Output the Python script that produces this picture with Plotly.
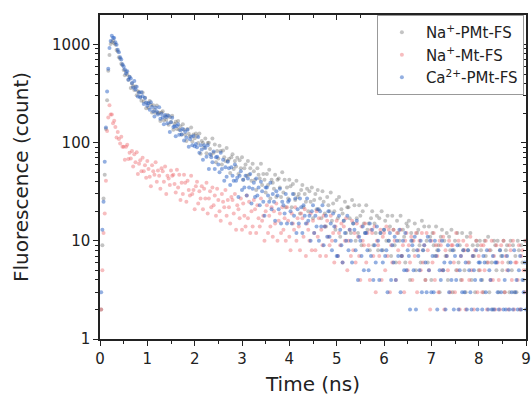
import plotly.graph_objects as go

# Time channels (ns)
time_ns = [
    0.025, 0.05, 0.075, 0.10, 0.125, 0.15, 0.175, 0.20, 0.225, 0.25, 0.275, 0.30, 0.325, 0.35, 0.375, 0.40, 0.425, 0.45, 0.475, 0.50,
    0.525, 0.55, 0.575, 0.60, 0.625, 0.65, 0.675, 0.70, 0.725, 0.75, 0.775, 0.80, 0.825, 0.85, 0.875, 0.90, 0.925, 0.95, 0.975, 1.00,
    1.025, 1.05, 1.075, 1.10, 1.125, 1.15, 1.175, 1.20, 1.225, 1.25, 1.275, 1.30, 1.325, 1.35, 1.375, 1.40, 1.425, 1.45, 1.475, 1.50,
    1.525, 1.55, 1.575, 1.60, 1.625, 1.65, 1.675, 1.70, 1.725, 1.75, 1.775, 1.80, 1.825, 1.85, 1.875, 1.90, 1.925, 1.95, 1.975, 2.00,
    2.025, 2.05, 2.075, 2.10, 2.125, 2.15, 2.175, 2.20, 2.225, 2.25, 2.275, 2.30, 2.325, 2.35, 2.375, 2.40, 2.425, 2.45, 2.475, 2.50,
    2.525, 2.55, 2.575, 2.60, 2.625, 2.65, 2.675, 2.70, 2.725, 2.75, 2.775, 2.80, 2.825, 2.85, 2.875, 2.90, 2.925, 2.95, 2.975, 3.00,
    3.025, 3.05, 3.075, 3.10, 3.125, 3.15, 3.175, 3.20, 3.225, 3.25, 3.275, 3.30, 3.325, 3.35, 3.375, 3.40, 3.425, 3.45, 3.475, 3.50,
    3.525, 3.55, 3.575, 3.60, 3.625, 3.65, 3.675, 3.70, 3.725, 3.75, 3.775, 3.80, 3.825, 3.85, 3.875, 3.90, 3.925, 3.95, 3.975, 4.00,
    4.025, 4.05, 4.075, 4.10, 4.125, 4.15, 4.175, 4.20, 4.225, 4.25, 4.275, 4.30, 4.325, 4.35, 4.375, 4.40, 4.425, 4.45, 4.475, 4.50,
    4.525, 4.55, 4.575, 4.60, 4.625, 4.65, 4.675, 4.70, 4.725, 4.75, 4.775, 4.80, 4.825, 4.85, 4.875, 4.90, 4.925, 4.95, 4.975, 5.00,
    5.025, 5.05, 5.075, 5.10, 5.125, 5.15, 5.175, 5.20, 5.225, 5.25, 5.275, 5.30, 5.325, 5.35, 5.375, 5.40, 5.425, 5.45, 5.475, 5.50,
    5.525, 5.55, 5.575, 5.60, 5.625, 5.65, 5.675, 5.70, 5.725, 5.75, 5.775, 5.80, 5.825, 5.85, 5.875, 5.90, 5.925, 5.95, 5.975, 6.00,
    6.025, 6.05, 6.075, 6.10, 6.125, 6.15, 6.175, 6.20, 6.225, 6.25, 6.275, 6.30, 6.325, 6.35, 6.375, 6.40, 6.425, 6.45, 6.475, 6.50,
    6.525, 6.55, 6.575, 6.60, 6.625, 6.65, 6.675, 6.70, 6.725, 6.75, 6.775, 6.80, 6.825, 6.85, 6.875, 6.90, 6.925, 6.95, 6.975, 7.00,
    7.025, 7.05, 7.075, 7.10, 7.125, 7.15, 7.175, 7.20, 7.225, 7.25, 7.275, 7.30, 7.325, 7.35, 7.375, 7.40, 7.425, 7.45, 7.475, 7.50,
    7.525, 7.55, 7.575, 7.60, 7.625, 7.65, 7.675, 7.70, 7.725, 7.75, 7.775, 7.80, 7.825, 7.85, 7.875, 7.90, 7.925, 7.95, 7.975, 8.00,
    8.025, 8.05, 8.075, 8.10, 8.125, 8.15, 8.175, 8.20, 8.225, 8.25, 8.275, 8.30, 8.325, 8.35, 8.375, 8.40, 8.425, 8.45, 8.475, 8.50,
    8.525, 8.55, 8.575, 8.60, 8.625, 8.65, 8.675, 8.70, 8.725, 8.75, 8.775, 8.80, 8.825, 8.85, 8.875, 8.90, 8.925, 8.95, 8.975, 9.00,
]

# Na+-PMt-FS counts
na_pmt = [
    2, 9, 27, 47, 138, 271, 541, 779, 1012, 1061, 1094, 1027, 998, 879, 846, 741, 716, 636, 613, 548,
    486, 529, 494, 436, 469, 360, 400, 375, 344, 374, 304, 334, 327, 294, 267, 324, 262, 286, 224, 252,
    227, 266, 243, 203, 240, 216, 202, 239, 199, 202, 166, 203, 209, 169, 186, 171, 191, 152, 181, 162,
    188, 135, 155, 163, 138, 166, 135, 146, 121, 154, 135, 120, 104, 138, 123, 116, 143, 103, 121, 111,
    124, 117, 99, 124, 77, 104, 99, 89, 110, 78, 99, 100, 86, 75, 110, 79, 96, 63, 82, 69,
    93, 82, 60, 83, 71, 65, 88, 65, 68, 49, 71, 76, 54, 65, 57, 70, 48, 66, 55, 71,
    42, 55, 60, 46, 65, 47, 55, 41, 61, 51, 42, 33, 55, 47, 43, 61, 37, 48, 42, 31,
    48, 37, 53, 27, 42, 39, 34, 47, 28, 42, 43, 35, 28, 50, 31, 42, 22, 35, 27, 42,
    36, 22, 38, 30, 26, 41, 28, 30, 19, 33, 37, 22, 30, 25, 34, 20, 32, 25, 35, 17,
    26, 30, 21, 33, 21, 27, 17, 32, 25, 19, 14, 28, 23, 20, 31, 16, 24, 20, 13, 26,
    17, 28, 11, 21, 19, 16, 25, 12, 22, 22, 17, 12, 26, 15, 23, 10, 17, 12, 23, 18,
    9, 20, 15, 12, 23, 13, 15, 8, 17, 20, 9, 15, 12, 18, 8, 17, 12, 20, 8, 13,
    16, 10, 18, 10, 14, 7, 18, 13, 9, 6, 16, 12, 10, 18, 7, 13, 11, 6, 15, 14,
    16, 4, 12, 10, 8, 15, 5, 12, 13, 9, 6, 16, 8, 14, 4, 10, 6, 14, 11, 4,
    12, 9, 7, 14, 8, 9, 3, 11, 13, 5, 10, 7, 12, 4, 11, 8, 13, 3, 8, 10,
    5, 12, 6, 9, 4, 12, 8, 5, 3, 11, 8, 6, 12, 4, 9, 7, 3, 10, 9, 5,
    10, 8, 4, 3, 10, 7, 6, 11, 3, 8, 6, 2, 10, 9, 5, 10, 3, 8, 7, 5,
    10, 3, 8, 9, 6, 3, 10, 5, 9, 3, 7, 3, 10, 8, 2, 9, 6, 4, 10, 5,
]

# Na+-Mt-FS counts
na_mt = [
    2, 5, 12, 19, 41, 131, 180, 241, 193, 193, 158, 167, 144, 113, 128, 109, 98, 115, 91, 91,
    67, 91, 95, 68, 79, 69, 82, 57, 76, 63, 80, 48, 61, 66, 51, 70, 51, 59, 44, 65,
    54, 45, 36, 59, 51, 47, 63, 40, 52, 46, 34, 55, 51, 40, 57, 30, 46, 43, 37, 52,
    46, 47, 38, 31, 53, 35, 47, 26, 39, 30, 47, 39, 25, 41, 33, 29, 46, 30, 33, 21,
    36, 40, 24, 32, 27, 36, 21, 34, 27, 39, 19, 27, 32, 22, 35, 23, 29, 18, 34, 26,
    20, 16, 30, 25, 22, 33, 18, 26, 22, 15, 28, 26, 19, 30, 13, 23, 21, 17, 27, 13,
    24, 18, 14, 29, 17, 25, 12, 20, 14, 26, 21, 12, 23, 17, 14, 27, 16, 18, 10, 20,
    23, 12, 18, 14, 22, 11, 20, 15, 24, 10, 16, 19, 12, 22, 13, 17, 10, 22, 16, 11,
    8, 19, 15, 13, 22, 10, 17, 14, 8, 19, 17, 11, 21, 7, 15, 13, 10, 19, 8, 16,
    12, 8, 20, 11, 17, 7, 13, 9, 18, 14, 7, 16, 11, 9, 18, 10, 12, 6, 14, 16,
    7, 12, 9, 15, 6, 14, 10, 17, 5, 10, 13, 7, 16, 8, 12, 6, 15, 11, 7, 4,
    14, 10, 9, 15, 6, 12, 9, 4, 13, 12, 7, 14, 3, 10, 9, 7, 13, 4, 11, 12,
    5, 14, 7, 13, 3, 9, 6, 13, 10, 4, 12, 8, 6, 13, 7, 9, 3, 10, 12, 5,
    9, 6, 11, 4, 10, 7, 12, 3, 8, 10, 5, 12, 6, 9, 4, 12, 8, 5, 2, 10,
    6, 12, 4, 9, 7, 3, 10, 9, 5, 11, 2, 8, 7, 5, 10, 3, 9, 9, 6, 3,
    12, 5, 10, 2, 7, 4, 10, 8, 2, 9, 6, 4, 11, 5, 7, 2, 8, 10, 3, 7,
    5, 9, 3, 9, 5, 10, 2, 6, 8, 4, 10, 4, 7, 2, 9, 6, 4, 2, 9, 6,
    10, 3, 7, 5, 2, 9, 8, 4, 10, 2, 6, 6, 4, 9, 2, 7, 8, 5, 3, 10,
]

# Ca2+-PMt-FS counts
ca_pmt = [
    3, 13, 25, 64, 143, 331, 566, 918, 1087, 1224, 1168, 1163, 1051, 996, 884, 832, 741, 702, 628, 597,
    557, 507, 532, 436, 465, 450, 404, 364, 424, 348, 370, 295, 323, 288, 326, 296, 247, 285, 256, 238,
    252, 216, 258, 231, 207, 185, 227, 207, 194, 229, 175, 196, 180, 154, 191, 182, 158, 188, 128, 161,
    179, 144, 147, 116, 148, 154, 120, 134, 121, 138, 105, 129, 113, 135, 91, 108, 115, 94, 117, 92,
    97, 90, 114, 79, 94, 85, 67, 94, 88, 72, 94, 54, 76, 71, 63, 81, 54, 71, 72, 60,
    50, 79, 54, 67, 41, 56, 45, 64, 55, 37, 56, 46, 41, 60, 41, 44, 28, 46, 51, 33,
    42, 35, 46, 29, 43, 35, 48, 24, 34, 39, 28, 43, 29, 35, 23, 40, 32, 25, 18, 35,
    35, 29, 25, 39, 21, 30, 25, 16, 32, 29, 21, 34, 15, 25, 23, 19, 30, 15, 25, 26,
    20, 15, 30, 18, 27, 12, 21, 15, 27, 22, 12, 23, 18, 15, 27, 16, 18, 10, 20, 23,
    12, 18, 14, 21, 10, 20, 14, 23, 9, 14, 18, 11, 20, 11, 15, 8, 19, 14, 10, 7,
    7, 18, 13, 9, 6, 16, 12, 10, 18, 8, 13, 10, 6, 15, 13, 8, 16, 4, 11, 10,
    7, 14, 5, 12, 12, 8, 5, 15, 7, 13, 4, 9, 6, 14, 10, 4, 12, 8, 6, 13,
    7, 8, 3, 10, 12, 4, 9, 6, 11, 4, 10, 7, 13, 3, 7, 10, 5, 12, 5, 8,
    7, 2, 10, 9, 5, 11, 2, 8, 7, 5, 10, 3, 8, 9, 6, 3, 11, 5, 10, 3,
    7, 3, 10, 7, 2, 8, 5, 4, 10, 5, 6, 2, 7, 9, 3, 6, 4, 8, 2, 7,
    4, 9, 2, 5, 7, 3, 8, 3, 6, 2, 8, 5, 3, 2, 7, 5, 4, 8, 2, 6,
    6, 4, 2, 7, 6, 3, 8, 2, 5, 4, 2, 7, 2, 6, 6, 3, 2, 8, 3, 7,
    2, 4, 2, 7, 5, 2, 6, 3, 2, 8, 3, 4, 2, 5, 7, 2, 4, 3, 6, 2,
]

series_names = ["Na<sup>+</sup>-PMt-FS", "Na<sup>+</sup>-Mt-FS", "Ca<sup>2+</sup>-PMt-FS"]
series_values = [na_pmt, na_mt, ca_pmt]
series_colors = ["rgba(70,70,70,0.32)", "rgba(235,90,95,0.40)", "rgba(40,95,195,0.50)"]

y_tickvals = [1, 10, 100, 1000]
y_ticktext = ["1", "10", "100", "1000"]

FONT = "DejaVu Sans"
TXT = "#222222"

fig = go.Figure()
for name, vals, col in zip(series_names, series_values, series_colors):
    fig.add_trace(go.Scatter(
        x=time_ns, y=vals, mode="markers", name=name,
        marker=dict(size=4, color=col, line=dict(width=0)),
    ))

# helper trace for the mirrored top/right axes
fig.add_trace(go.Scatter(x=[], y=[], xaxis="x2", yaxis="y2", showlegend=False, hoverinfo="skip"))

axis_line = dict(showline=True, linecolor="#222222", linewidth=1.5, showgrid=False, zeroline=False)

fig.update_layout(
    width=531, height=400,
    margin=dict(l=100, r=5, t=15, b=61, autoexpand=False),
    paper_bgcolor="white", plot_bgcolor="white",
    font=dict(family=FONT, color=TXT, size=15),
    showlegend=True,
    legend=dict(
        x=0.65, y=1.0, xanchor="left", yanchor="top",
        bgcolor="white", bordercolor="#999999", borderwidth=1,
        font=dict(family=FONT, size=15, color=TXT),
        itemwidth=38, tracegroupgap=0,
    ),
    xaxis=dict(
        **axis_line, range=[0, 9], dtick=1, tick0=0,
        ticks="outside", ticklen=5, tickwidth=1.2, tickcolor="#222222",
        minor=dict(dtick=0.5, ticks="outside", ticklen=3, tickcolor="#222222"),
        title=dict(text="Time (ns)", font=dict(size=20, family=FONT, color=TXT), standoff=10),
        tickfont=dict(size=15, family=FONT, color=TXT),
    ),
    yaxis=dict(
        **axis_line, type="log", range=[0, 3.3],
        tickmode="array", tickvals=y_tickvals, ticktext=y_ticktext,
        ticks="outside", ticklen=5, tickwidth=1.2, tickcolor="#222222",
        minor=dict(dtick="D1", ticks="outside", ticklen=3, tickcolor="#222222"),
        title=dict(text="Fluorescence (count)", font=dict(size=20, family=FONT, color=TXT), standoff=18),
        tickfont=dict(size=15, family=FONT, color=TXT),
    ),
    xaxis2=dict(
        **axis_line, overlaying="x", side="top", anchor="y", range=[0, 9], dtick=1,
        ticks="inside", ticklen=5, tickwidth=1.2, tickcolor="#222222", showticklabels=False,
        minor=dict(dtick=0.5, ticks="inside", ticklen=3, tickcolor="#222222"),
    ),
    yaxis2=dict(
        **axis_line, overlaying="y", side="right", anchor="x", type="log", range=[0, 3.3],
        tickmode="array", tickvals=y_tickvals,
        ticks="inside", ticklen=5, tickwidth=1.2, tickcolor="#222222", showticklabels=False,
        minor=dict(dtick="D1", ticks="inside", ticklen=3, tickcolor="#222222"),
    ),
)

fig.write_html("out.html")
